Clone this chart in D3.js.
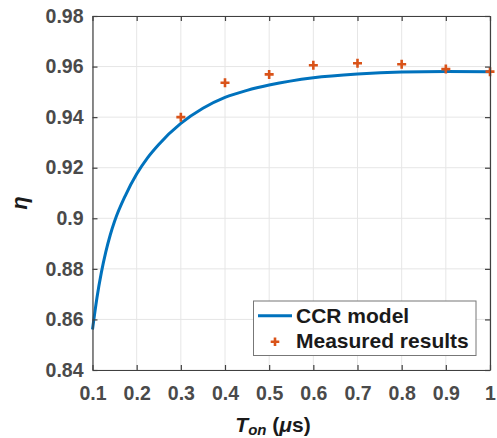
<!DOCTYPE html>
<html>
<head>
<meta charset="utf-8">
<script src="https://cdn.jsdelivr.net/npm/d3@7"></script>
<style>
  html, body { margin: 0; padding: 0; background: #fff; }
  svg { display: block; }
  text { font-family: "Liberation Sans", Arial, Helvetica, sans-serif; font-weight: bold; }
</style>
</head>
<body>
<svg id="chart" width="497" height="438"></svg>
<script>
// ---- data ----
const modelT = [0.1, 0.11, 0.12, 0.13, 0.14, 0.15, 0.175, 0.2, 0.225, 0.25, 0.3, 0.35, 0.4, 0.45, 0.5, 0.6, 0.7, 0.8, 0.9, 1.0];
const modelEta = [0.856, 0.8685, 0.8785, 0.8866, 0.8933, 0.8988, 0.9092, 0.9175, 0.924, 0.9292, 0.9375, 0.9435, 0.9478, 0.9506, 0.9527, 0.9556, 0.9571, 0.9579, 0.9581, 0.958];
const measT = [0.3, 0.4, 0.5, 0.6, 0.7, 0.8, 0.9, 1.0];
const measEta = [0.940, 0.9536, 0.9569, 0.9605, 0.9613, 0.9609, 0.959, 0.958];
const xTicks = [0.1, 0.2, 0.3, 0.4, 0.5, 0.6, 0.7, 0.8, 0.9, 1.0];
const xTickLabels = ["0.1", "0.2", "0.3", "0.4", "0.5", "0.6", "0.7", "0.8", "0.9", "1"];
const yTicks = [0.84, 0.86, 0.88, 0.90, 0.92, 0.94, 0.96, 0.98];
const yTickLabels = ["0.84", "0.86", "0.88", "0.9", "0.92", "0.94", "0.96", "0.98"];
const seriesNames = ["CCR model", "Measured results"];

// ---- layout ----
const L = 92.5, R = 490, T = 16, B = 370;
const blue = "#0072BD", orange = "#D95319";
const axisCol = "#404040", tickTextCol = "#4a4a4a";

const svg = d3.select("#chart");
const x = d3.scaleLinear().domain([0.1, 1]).range([L, R]);
const y = d3.scaleLinear().domain([0.84, 0.98]).range([B, T]);

// grid
const grid = svg.append("g");
grid.selectAll(".gx").data(xTicks).enter().append("line")
  .attr("x1", d => x(d)).attr("x2", d => x(d)).attr("y1", T).attr("y2", B)
  .attr("stroke", "#e6e6e6").attr("stroke-width", 1);
grid.selectAll(".gy").data(yTicks).enter().append("line")
  .attr("x1", L).attr("x2", R).attr("y1", d => y(d)).attr("y2", d => y(d))
  .attr("stroke", "#e6e6e6").attr("stroke-width", 1);

// model curve
const line = d3.line().x(d => x(d[0])).y(d => y(d[1])).curve(d3.curveMonotoneX);
svg.append("path")
  .datum(modelT.map((t, i) => [t, modelEta[i]]))
  .attr("d", line)
  .attr("fill", "none").attr("stroke", blue).attr("stroke-width", 3);

// markers
const plus = (g, cx, cy, s) => {
  g.append("path")
    .attr("d", `M${cx - s},${cy}H${cx + s}M${cx},${cy - s}V${cy + s}`)
    .attr("stroke", orange).attr("stroke-width", 2.6).attr("fill", "none");
};
const mg = svg.append("g");
measT.forEach((t, i) => plus(mg, x(t), y(measEta[i]), 4.5));

// axes
const fmtX = d => xTickLabels[xTicks.indexOf(d)];
const fmtY = d => yTickLabels[yTicks.indexOf(d)];
const styleAxis = g => {
  g.select(".domain").attr("stroke", axisCol).attr("stroke-width", 1.2);
  g.selectAll(".tick line").attr("stroke", axisCol).attr("stroke-width", 1.2);
  g.selectAll("text").attr("fill", tickTextCol)
    .style("font-size", "19.5px").style("font-weight", "bold")
    .style("font-family", '"Liberation Sans", Arial, sans-serif');
};
svg.append("g").attr("transform", `translate(0,${B})`)
  .call(d3.axisBottom(x).tickValues(xTicks).tickFormat(fmtX).tickSizeInner(-5).tickSizeOuter(0).tickPadding(16.5))
  .call(styleAxis);
svg.append("g").attr("transform", `translate(${L},0)`)
  .call(d3.axisLeft(y).tickValues(yTicks).tickFormat(fmtY).tickSizeInner(-5).tickSizeOuter(0).tickPadding(9))
  .call(styleAxis);
svg.append("g").attr("transform", `translate(0,${T})`)
  .call(d3.axisTop(x).tickValues(xTicks).tickFormat("").tickSizeInner(-5).tickSizeOuter(0))
  .call(styleAxis);
svg.append("g").attr("transform", `translate(${R},0)`)
  .call(d3.axisRight(y).tickValues(yTicks).tickFormat("").tickSizeInner(-5).tickSizeOuter(0))
  .call(styleAxis);

// axis labels
const xl = svg.append("text").attr("x", 273).attr("y", 432)
  .attr("text-anchor", "middle").attr("fill", "#1a1a1a").style("font-size", "21px");
xl.append("tspan").text("T").style("font-style", "italic");
xl.append("tspan").text("on").style("font-style", "italic").style("font-size", "15px").attr("dy", 3);
xl.append("tspan").text(" (").attr("dy", -3);
xl.append("tspan").text("μ").style("font-style", "italic");
xl.append("tspan").text("s)");

svg.append("text")
  .attr("transform", "translate(27,203) rotate(-90)")
  .attr("text-anchor", "middle").attr("fill", "#1a1a1a")
  .style("font-size", "22px").style("font-style", "italic")
  .text("η");

// legend
const lg = svg.append("g");
lg.append("rect").attr("x", 253.5).attr("y", 301).attr("width", 222.5).attr("height", 54.5)
  .attr("fill", "#fff").attr("stroke", "#777").attr("stroke-width", 1);
lg.append("line").attr("x1", 258).attr("x2", 292).attr("y1", 315.7).attr("y2", 315.7)
  .attr("stroke", blue).attr("stroke-width", 3);
plus(lg, 275, 341.7, 4.3);
lg.append("text").attr("x", 296).attr("y", 322.7).attr("fill", "#1a1a1a")
  .style("font-size", "21px").text(seriesNames[0]);
lg.append("text").attr("x", 296).attr("y", 347.7).attr("fill", "#1a1a1a")
  .style("font-size", "21px").text(seriesNames[1]);
</script>
</body>
</html>
